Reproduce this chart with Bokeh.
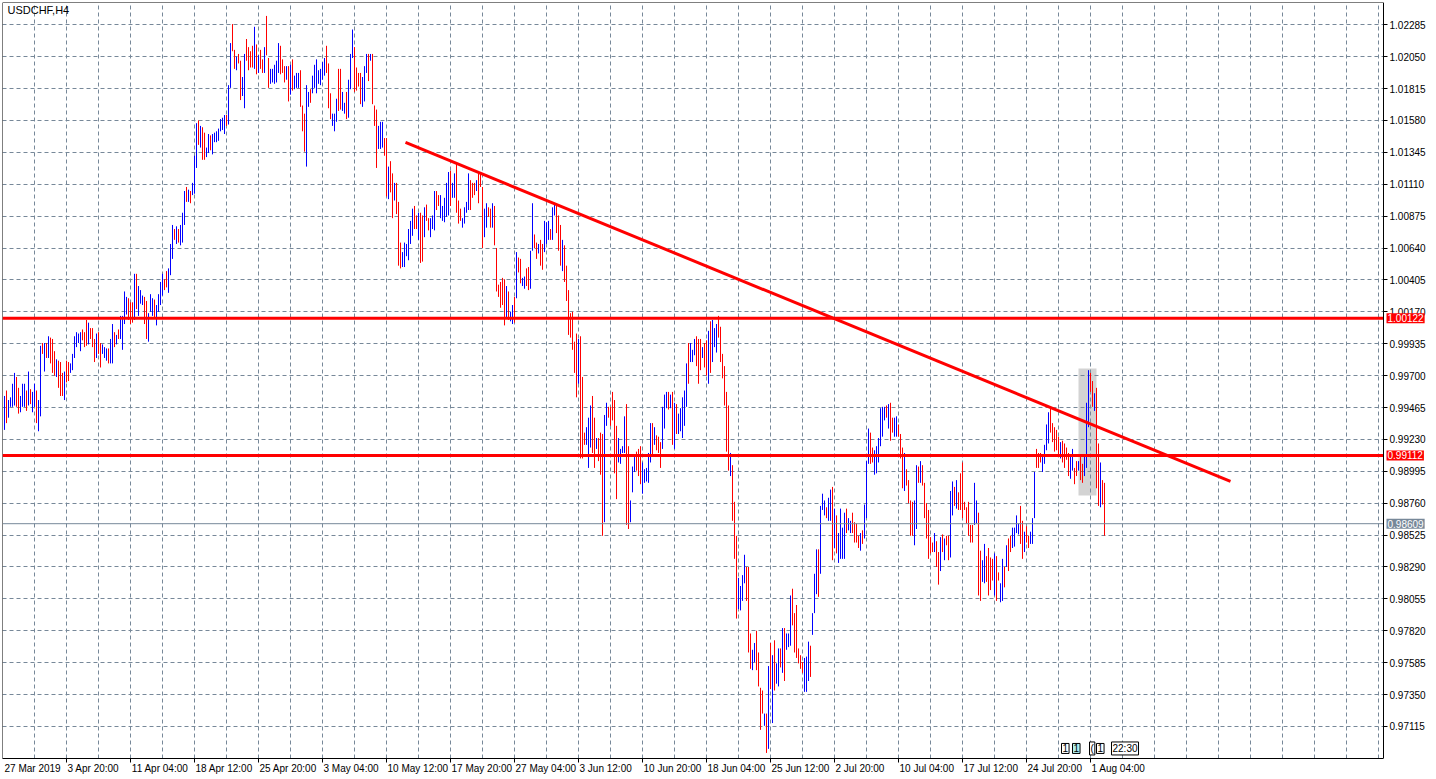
from bokeh.plotting import figure
from bokeh.models import (ColumnDataSource, FixedTicker, LinearAxis, PrintfTickFormatter,
                          Label, Range1d, BoxAnnotation)
from bokeh.embed import file_html
from bokeh.resources import INLINE

symbol = "USDCHF,H4"

# bar direction: u = up (blue), d = down (red), one char per H4 bar
direction = (
    "uduuuudduu" "ududuuduud" "ududdduddd" "udduuuuuud" "ddudddudd" "u"
    "uuduududuu" "uuddduduuu" "dduuuduuuu" "dduuududuu" "ududuuudud"
    "duuduuuuuu" "uduudduddu" "uddddududd" "udduuuuudd" "dududuuudd"
    "duuduuuuuu" "uddduuuddu" "uduuuddddu" "uududdduuu" "dduddudddu"
    "uuuuuddudd" "udduuudduu" "uuuduudddu" "uuuddduddd" "uudduddddd"
    "duduududdu" "udduuddudd" "uuuduudddu" "dddddddudd" "duuudduddd"
    "uuddddduuu" "udduuudddu" "uuuududddu" "uudududuuu" "uuduuudddu"
    "dduduuuddd" "ddduddduuu" "uddduudddd" "udududuudu" "duuudddddd"
    "uuuduuuduu" "uduududuuu" "uduuddddud" "uuudduuuuu" "ududduuddd"
    "udddduudud" "ddddduddud" "udduududdd" "ddddduuddu" "uddddudduu"
    "dudduuuudd" "udduuudddu" "uuudddddud" "ddduuddudd" "uuudduddud"
    "d"
)

high = [
    0.9955, 0.9959, 0.9952, 0.9954, 0.9964, 0.9972, 0.9969, 0.9961, 0.9955, 0.9964,
    0.9964, 0.9959, 0.9973, 0.9960, 0.9958, 0.9964, 0.9959, 0.9952, 0.9992, 0.9994,
    0.9994, 0.9994, 0.9999, 0.9998, 0.9997, 0.9988, 0.9982, 0.9981, 0.9980, 0.9972,
    0.9973, 0.9981, 0.9980, 0.9979, 0.9986, 0.9999, 1.0002, 1.0001, 1.0002, 1.0004,
    1.0002, 1.0011, 1.0009, 1.0005, 1.0005, 0.9997, 1.0001, 1.0002, 0.9994, 0.9993,
    0.9991, 0.9990, 0.9990, 0.9997, 1.0008, 1.0002, 1.0000, 1.0004, 1.0014, 1.0014,
    1.0032, 1.0028, 1.0027, 1.0024, 1.0024, 1.0045, 1.0045, 1.0036, 1.0033, 1.0029,
    1.0028, 1.0025, 1.0016, 1.0030, 1.0027, 1.0026, 1.0022, 1.0030, 1.0039, 1.0045,
    1.0041, 1.0047, 1.0049, 1.0067, 1.0081, 1.0078, 1.0080, 1.0078, 1.0081, 1.0090,
    1.0106, 1.0109, 1.0107, 1.0106, 1.0112, 1.0132, 1.0156, 1.0158, 1.0154, 1.0153,
    1.0149, 1.0138, 1.0148, 1.0147, 1.0148, 1.0149, 1.0150, 1.0152, 1.0159, 1.0160,
    1.0162, 1.0162, 1.0184, 1.0215, 1.0229, 1.0210, 1.0205, 1.0207, 1.0202, 1.0190,
    1.0207, 1.0218, 1.0212, 1.0209, 1.0213, 1.0227, 1.0214, 1.0206, 1.0210, 1.0203,
    1.0212, 1.0235, 1.0204, 1.0196, 1.0196, 1.0199, 1.0202, 1.0215, 1.0213, 1.0203,
    1.0198, 1.0198, 1.0198, 1.0199, 1.0203, 1.0191, 1.0193, 1.0193, 1.0195, 1.0169,
    1.0163, 1.0184, 1.0179, 1.0181, 1.0191, 1.0199, 1.0203, 1.0195, 1.0196, 1.0201,
    1.0204, 1.0213, 1.0200, 1.0178, 1.0163, 1.0163, 1.0174, 1.0196, 1.0196, 1.0179,
    1.0171, 1.0179, 1.0188, 1.0207, 1.0225, 1.0212, 1.0197, 1.0193, 1.0193, 1.0190,
    1.0198, 1.0207, 1.0207, 1.0207, 1.0207, 1.0169, 1.0166, 1.0154, 1.0157, 1.0157,
    1.0145, 1.0145, 1.0124, 1.0128, 1.0119, 1.0112, 1.0112, 1.0098, 1.0068, 1.0061,
    1.0068, 1.0067, 1.0078, 1.0084, 1.0093, 1.0095, 1.0088, 1.0090, 1.0090, 1.0088,
    1.0094, 1.0096, 1.0086, 1.0086, 1.0088, 1.0106, 1.0106, 1.0103, 1.0103, 1.0095,
    1.0101, 1.0112, 1.0120, 1.0121, 1.0112, 1.0119, 1.0126, 1.0099, 1.0093, 1.0086,
    1.0094, 1.0098, 1.0119, 1.0114, 1.0112, 1.0112, 1.0114, 1.0119, 1.0120, 1.0109,
    1.0093, 1.0097, 1.0094, 1.0093, 1.0097, 1.0095, 1.0064, 1.0037, 1.0039, 1.0042,
    1.0041, 1.0036, 1.0032, 1.0017, 1.0022, 1.0028, 1.0061, 1.0057, 1.0056, 1.0042,
    1.0043, 1.0049, 1.0050, 1.0062, 1.0097, 1.0074, 1.0068, 1.0067, 1.0070, 1.0067,
    1.0084, 1.0083, 1.0084, 1.0078, 1.0094, 1.0097, 1.0097, 1.0088, 1.0081, 1.0070,
    1.0066, 1.0051, 1.0033, 1.0016, 1.0017, 0.9995, 1.0001, 0.9997, 0.9999, 0.9969,
    0.9928, 0.9932, 0.9939, 0.9948, 0.9955, 0.9939, 0.9924, 0.9924, 0.9928, 0.9927,
    0.9941, 0.9950, 0.9947, 0.9947, 0.9958, 0.9952, 0.9933, 0.9924, 0.9916, 0.9918,
    0.9940, 0.9949, 0.9918, 0.9878, 0.9903, 0.9910, 0.9914, 0.9916, 0.9918, 0.9906,
    0.9901, 0.9902, 0.9913, 0.9935, 0.9935, 0.9932, 0.9926, 0.9925, 0.9921, 0.9947,
    0.9956, 0.9958, 0.9958, 0.9956, 0.9958, 0.9950, 0.9949, 0.9942, 0.9946, 0.9954,
    0.9959, 0.9979, 0.9994, 0.9994, 0.9989, 0.9997, 0.9999, 0.9997, 0.9997, 0.9991,
    0.9994, 0.9996, 1.0003, 1.0010, 1.0011, 1.0005, 1.0008, 1.0014, 1.0006, 0.9986,
    0.9977, 0.9958, 0.9948, 0.9913, 0.9904, 0.9877, 0.9852, 0.9821, 0.9815, 0.9823,
    0.9838, 0.9829, 0.9829, 0.9780, 0.9768, 0.9773, 0.9782, 0.9766, 0.9740, 0.9738,
    0.9721, 0.9721, 0.9756, 0.9773, 0.9764, 0.9775, 0.9758, 0.9769, 0.9769, 0.9784,
    0.9784, 0.9780, 0.9780, 0.9808, 0.9813, 0.9795, 0.9801, 0.9769, 0.9764, 0.9759,
    0.9762, 0.9763, 0.9774, 0.9771, 0.9795, 0.9824, 0.9842, 0.9842, 0.9874, 0.9883,
    0.9878, 0.9873, 0.9880, 0.9886, 0.9888, 0.9872, 0.9867, 0.9854, 0.9872, 0.9858,
    0.9869, 0.9872, 0.9865, 0.9863, 0.9869, 0.9862, 0.9861, 0.9852, 0.9854, 0.9856,
    0.9875, 0.9907, 0.9931, 0.9928, 0.9917, 0.9915, 0.9918, 0.9924, 0.9946, 0.9947,
    0.9947, 0.9948, 0.9949, 0.9950, 0.9939, 0.9939, 0.9940, 0.9934, 0.9927, 0.9917,
    0.9913, 0.9901, 0.9893, 0.9878, 0.9877, 0.9878, 0.9904, 0.9903, 0.9907, 0.9904,
    0.9891, 0.9876, 0.9871, 0.9851, 0.9847, 0.9854, 0.9848, 0.9840, 0.9851, 0.9853,
    0.9850, 0.9852, 0.9852, 0.9885, 0.9892, 0.9888, 0.9893, 0.9884, 0.9898, 0.9906,
    0.9877, 0.9873, 0.9877, 0.9860, 0.9860, 0.9891, 0.9878, 0.9869, 0.9841, 0.9834,
    0.9846, 0.9837, 0.9843, 0.9836, 0.9835, 0.9839, 0.9837, 0.9825, 0.9817, 0.9835,
    0.9829, 0.9845, 0.9850, 0.9852, 0.9858, 0.9858, 0.9867, 0.9861, 0.9874, 0.9863,
    0.9855, 0.9859, 0.9852, 0.9855, 0.9865, 0.9899, 0.9916, 0.9913, 0.9913, 0.9910,
    0.9919, 0.9934, 0.9943, 0.9946, 0.9935, 0.9932, 0.9930, 0.9925, 0.9921, 0.9922,
    0.9920, 0.9917, 0.9913, 0.9911, 0.9916, 0.9902, 0.9907, 0.9907, 0.9910, 0.9905,
    0.9912, 0.9950, 0.9974, 0.9972, 0.9966, 0.9957, 0.9961, 0.9920, 0.9906, 0.9893,
    0.9891,
]

low = [
    0.9930, 0.9935, 0.9939, 0.9947, 0.9947, 0.9948, 0.9947, 0.9942, 0.9943, 0.9947,
    0.9947, 0.9944, 0.9948, 0.9949, 0.9943, 0.9947, 0.9935, 0.9929, 0.9940, 0.9986,
    0.9973, 0.9983, 0.9983, 0.9979, 0.9972, 0.9970, 0.9969, 0.9961, 0.9955, 0.9955,
    0.9952, 0.9965, 0.9966, 0.9972, 0.9974, 0.9983, 0.9991, 0.9994, 0.9988, 0.9996,
    0.9991, 0.9992, 0.9993, 0.9997, 0.9991, 0.9980, 0.9983, 0.9986, 0.9976, 0.9986,
    0.9983, 0.9981, 0.9979, 0.9979, 0.9979, 0.9991, 0.9993, 0.9997, 0.9997, 0.9989,
    1.0008, 1.0015, 1.0011, 1.0008, 1.0009, 1.0011, 1.0019, 1.0014, 1.0023, 1.0022,
    1.0008, 0.9997, 0.9995, 1.0017, 1.0014, 1.0013, 1.0007, 1.0017, 1.0022, 1.0029,
    1.0033, 1.0035, 1.0031, 1.0044, 1.0056, 1.0070, 1.0067, 1.0068, 1.0066, 1.0068,
    1.0081, 1.0098, 1.0098, 1.0097, 1.0103, 1.0104, 1.0123, 1.0140, 1.0138, 1.0129,
    1.0129, 1.0131, 1.0134, 1.0136, 1.0133, 1.0142, 1.0142, 1.0143, 1.0150, 1.0151,
    1.0148, 1.0154, 1.0155, 1.0182, 1.0209, 1.0196, 1.0195, 1.0200, 1.0173, 1.0176,
    1.0167, 1.0202, 1.0195, 1.0197, 1.0197, 1.0196, 1.0192, 1.0193, 1.0196, 1.0193,
    1.0193, 1.0206, 1.0182, 1.0185, 1.0186, 1.0185, 1.0186, 1.0193, 1.0192, 1.0193,
    1.0186, 1.0188, 1.0172, 1.0177, 1.0180, 1.0181, 1.0182, 1.0182, 1.0168, 1.0150,
    1.0135, 1.0124, 1.0168, 1.0171, 1.0178, 1.0182, 1.0178, 1.0185, 1.0184, 1.0188,
    1.0191, 1.0193, 1.0167, 1.0159, 1.0154, 1.0150, 1.0157, 1.0165, 1.0166, 1.0165,
    1.0163, 1.0159, 1.0160, 1.0181, 1.0204, 1.0179, 1.0180, 1.0183, 1.0170, 1.0168,
    1.0172, 1.0193, 1.0187, 1.0202, 1.0170, 1.0154, 1.0123, 1.0137, 1.0137, 1.0138,
    1.0132, 1.0102, 1.0100, 1.0105, 1.0086, 1.0099, 1.0089, 1.0051, 1.0049, 1.0050,
    1.0050, 1.0058, 1.0055, 1.0067, 1.0073, 1.0078, 1.0078, 1.0070, 1.0053, 1.0054,
    1.0072, 1.0084, 1.0077, 1.0072, 1.0078, 1.0077, 1.0092, 1.0095, 1.0086, 1.0084,
    1.0083, 1.0087, 1.0088, 1.0095, 1.0101, 1.0101, 1.0090, 1.0082, 1.0084, 1.0079,
    1.0082, 1.0090, 1.0092, 1.0092, 1.0101, 1.0103, 1.0106, 1.0097, 1.0109, 1.0064,
    1.0072, 1.0079, 1.0087, 1.0079, 1.0079, 1.0066, 1.0032, 1.0028, 1.0020, 1.0022,
    1.0007, 1.0013, 1.0011, 1.0010, 1.0008, 1.0009, 1.0027, 1.0046, 1.0038, 1.0036,
    1.0034, 1.0036, 1.0033, 1.0034, 1.0062, 1.0064, 1.0056, 1.0060, 1.0051, 1.0048,
    1.0061, 1.0067, 1.0070, 1.0070, 1.0070, 1.0088, 1.0075, 1.0062, 1.0051, 1.0047,
    1.0039, 1.0025, 1.0000, 0.9998, 0.9989, 0.9972, 0.9954, 0.9964, 0.9909, 0.9909,
    0.9919, 0.9919, 0.9902, 0.9917, 0.9913, 0.9902, 0.9916, 0.9907, 0.9897, 0.9852,
    0.9862, 0.9933, 0.9939, 0.9933, 0.9937, 0.9898, 0.9879, 0.9906, 0.9905, 0.9913,
    0.9913, 0.9860, 0.9857, 0.9862, 0.9884, 0.9899, 0.9900, 0.9896, 0.9890, 0.9883,
    0.9891, 0.9892, 0.9891, 0.9906, 0.9912, 0.9919, 0.9915, 0.9913, 0.9902, 0.9916,
    0.9931, 0.9946, 0.9945, 0.9946, 0.9919, 0.9916, 0.9927, 0.9927, 0.9929, 0.9924,
    0.9933, 0.9947, 0.9964, 0.9980, 0.9980, 0.9985, 0.9977, 0.9964, 0.9974, 0.9983,
    0.9976, 0.9970, 0.9964, 0.9972, 0.9980, 0.9991, 0.9987, 0.9998, 0.9980, 0.9968,
    0.9948, 0.9914, 0.9900, 0.9896, 0.9863, 0.9835, 0.9791, 0.9798, 0.9797, 0.9804,
    0.9817, 0.9804, 0.9766, 0.9754, 0.9753, 0.9759, 0.9753, 0.9741, 0.9709, 0.9721,
    0.9712, 0.9692, 0.9695, 0.9739, 0.9714, 0.9738, 0.9743, 0.9741, 0.9755, 0.9751,
    0.9745, 0.9768, 0.9770, 0.9771, 0.9786, 0.9766, 0.9762, 0.9758, 0.9754, 0.9751,
    0.9737, 0.9737, 0.9745, 0.9748, 0.9779, 0.9795, 0.9809, 0.9807, 0.9824, 0.9871,
    0.9867, 0.9865, 0.9863, 0.9863, 0.9834, 0.9843, 0.9839, 0.9832, 0.9835, 0.9835,
    0.9835, 0.9854, 0.9856, 0.9854, 0.9854, 0.9847, 0.9847, 0.9843, 0.9841, 0.9846,
    0.9850, 0.9865, 0.9905, 0.9905, 0.9906, 0.9897, 0.9898, 0.9906, 0.9918, 0.9925,
    0.9937, 0.9939, 0.9931, 0.9922, 0.9928, 0.9925, 0.9925, 0.9925, 0.9909, 0.9887,
    0.9885, 0.9889, 0.9876, 0.9852, 0.9852, 0.9845, 0.9857, 0.9891, 0.9891, 0.9889,
    0.9865, 0.9850, 0.9835, 0.9839, 0.9840, 0.9840, 0.9829, 0.9816, 0.9826, 0.9840,
    0.9834, 0.9845, 0.9834, 0.9836, 0.9867, 0.9874, 0.9872, 0.9871, 0.9871, 0.9865,
    0.9871, 0.9861, 0.9852, 0.9847, 0.9847, 0.9860, 0.9861, 0.9808, 0.9804, 0.9818,
    0.9817, 0.9818, 0.9808, 0.9812, 0.9819, 0.9808, 0.9804, 0.9819, 0.9803, 0.9804,
    0.9814, 0.9829, 0.9826, 0.9840, 0.9843, 0.9844, 0.9854, 0.9853, 0.9846, 0.9835,
    0.9840, 0.9847, 0.9843, 0.9846, 0.9846, 0.9865, 0.9902, 0.9902, 0.9906, 0.9899,
    0.9905, 0.9915, 0.9920, 0.9928, 0.9921, 0.9914, 0.9915, 0.9910, 0.9909, 0.9906,
    0.9902, 0.9908, 0.9896, 0.9894, 0.9900, 0.9890, 0.9896, 0.9900, 0.9893, 0.9891,
    0.9896, 0.9902, 0.9932, 0.9958, 0.9947, 0.9944, 0.9887, 0.9874, 0.9873, 0.9875,
    0.9852,
]

y_ticks = [1.02285, 1.02050, 1.01815, 1.01580, 1.01345, 1.01110, 1.00875, 1.00640,
           1.00405, 1.00170, 0.99935, 0.99700, 0.99465, 0.99230, 0.98995, 0.98760,
           0.98525, 0.98290, 0.98055, 0.97820, 0.97585, 0.97350, 0.97115]

x_tick_bars = [0, 31, 63, 95, 127, 159, 191, 223, 255, 287, 319, 351, 383, 415,
               447, 479, 511, 543]
x_tick_labels = ["27 Mar 2019", "3 Apr 20:00", "11 Apr 04:00", "18 Apr 12:00",
                 "25 Apr 20:00", "3 May 04:00", "10 May 12:00", "17 May 20:00",
                 "27 May 04:00", "3 Jun 12:00", "10 Jun 20:00", "18 Jun 04:00",
                 "25 Jun 12:00", "2 Jul 20:00", "10 Jul 04:00", "17 Jul 12:00",
                 "24 Jul 20:00", "1 Aug 04:00"]

levels = [1.00122, 0.99112]
last_price = 0.98609
trend_bars = [200.5, 613.0]
trend_prices = [1.01418, 0.98920]
rect_bars = [537.0, 546.0]
rect_prices = [0.98817, 0.99753]
object_tags = ["1", "1", "(", "1", "22:30"]
object_tag_bars = [528.5, 534.0, 542.5, 546.0, 553.5]

UP, DOWN = "#0000ff", "#ff0000"
GRID = "#778899"
FONT = "Liberation Sans"
PX_PER_BAR = 2.0
FRAME_W = 1434
X0 = -1.0
X1 = X0 + FRAME_W / PX_PER_BAR
EDGE = 689.5            # bar position of the price-scale border
Y0, Y1 = 0.96879, 1.02449

idx = list(range(len(high)))
colors = [UP if c == "u" else DOWN for c in direction]
src = ColumnDataSource(dict(x=idx, hi=high, lo=low, c=colors))

p = figure(width=1436, frame_height=756,
           x_range=Range1d(X0, X1), y_range=Range1d(Y0, Y1),
           x_axis_location=None, y_axis_location=None,
           toolbar_location=None, output_backend="svg",
           min_border_left=2, min_border_top=2, min_border_right=0, min_border_bottom=0,
           background_fill_color="white", border_fill_color="white")
p.outline_line_color = None

# grid
p.xgrid.ticker = FixedTicker(ticks=list(range(15, 690, 16)))
p.ygrid.ticker = FixedTicker(ticks=y_ticks)
for g in (p.xgrid, p.ygrid):
    g.grid_line_color = GRID
    g.grid_line_dash = "4 3"
    g.grid_line_width = 1

# blank price-scale area right of the chart border (covers grid lines)
p.add_layout(BoxAnnotation(left=EDGE, fill_color="white", fill_alpha=1.0,
                           line_color=None, level="underlay"))

# highlighted rectangle
rr = p.quad(left=[rect_bars[0]], right=[rect_bars[1]], bottom=[rect_prices[0]],
            top=[rect_prices[1]], fill_color="#d3d3d3", line_color=None)
rr.level = "underlay"

# chart border (left and top)
p.segment(x0=[X0, X0], y0=[Y0, Y1], x1=[X0, EDGE], y1=[Y1, Y1],
          line_color="black", line_width=1)

# bars
p.segment(x0="x", y0="lo", x1="x", y1="hi", color="c", line_width=1, source=src)

# horizontal levels and last price line
p.segment(x0=[X0] * len(levels), x1=[EDGE] * len(levels), y0=levels, y1=levels,
          line_color="#ff0000", line_width=3)
p.segment(x0=[X0], x1=[EDGE], y0=[last_price], y1=[last_price],
          line_color=GRID, line_width=1)

# trend line
p.line(x=trend_bars, y=trend_prices, line_color="#ff0000", line_width=3)

# price axis drawn at the chart border
ya = LinearAxis(ticker=FixedTicker(ticks=y_ticks),
                formatter=PrintfTickFormatter(format="%.5f"))
ya.fixed_location = EDGE
ya.major_tick_out = 4
ya.major_tick_in = 0
ya.minor_tick_out = 0
ya.minor_tick_in = 0
ya.axis_line_color = "black"
ya.major_tick_line_color = "black"
ya.major_label_standoff = 2
ya.major_label_text_font = FONT
ya.major_label_text_font_size = "10px"
ya.major_label_text_color = "black"
p.add_layout(ya, "right")

# time axis: labels left-aligned after their tick marks
CW = {" ": 0.278, ":": 0.278, "A": 0.667, "M": 0.833, "J": 0.5, "p": 0.556, "r": 0.333,
      "a": 0.556, "y": 0.5, "u": 0.556, "n": 0.556, "l": 0.222, "g": 0.556}


def text_w(s, size=10.0):
    return sum(CW.get(ch, 0.556) for ch in s) * size


centers = []
for k, (b, lab) in enumerate(zip(x_tick_bars, x_tick_labels)):
    gap = 0.0 if k == 0 else 1.0
    centers.append(round(b + (gap + text_w(lab) / 2.0) / PX_PER_BAR, 2))

xa = LinearAxis(ticker=FixedTicker(ticks=centers, minor_ticks=x_tick_bars[1:]))
xa.bounds = (X0, EDGE)
xa.major_label_overrides = {c: lab for c, lab in zip(centers, x_tick_labels)}
xa.major_tick_out = 0
xa.major_tick_in = 0
xa.minor_tick_out = 4
xa.minor_tick_in = 0
xa.minor_tick_line_color = "black"
xa.axis_line_color = "black"
xa.major_label_standoff = 0
xa.major_label_text_font = FONT
xa.major_label_text_font_size = "10px"
xa.major_label_text_color = "black"
p.add_layout(xa, "below")

# symbol caption
p.add_layout(Label(x=1.5, y=1.02435, text=symbol, text_font=FONT, text_font_size="11px",
                   text_color="black", text_baseline="top"))

# price tags on the price scale
for lv in levels:
    p.add_layout(Label(x=EDGE + 1.5, y=lv, text=f"{lv:.5f}", text_font=FONT,
                       text_font_size="10px", text_color="white", text_baseline="middle",
                       background_fill_color="#ff0000", padding=1))
p.add_layout(Label(x=EDGE + 1.5, y=last_price, text=f"{last_price:.5f}", text_font=FONT,
                   text_font_size="10px", text_color="white", text_baseline="middle",
                   background_fill_color=GRID, padding=1))

# small object tags at the bottom of the chart
tag_y = 0.96953
for t, b in zip(object_tags, object_tag_bars):
    p.add_layout(Label(x=b, y=tag_y, text=t, text_font=FONT, text_font_size="10px",
                       text_color="black", text_baseline="middle",
                       background_fill_color="#afeeee" if b == 534.0 else "white",
                       border_line_color="black", padding=1))

open("out.html", "w").write(file_html(p, INLINE))
